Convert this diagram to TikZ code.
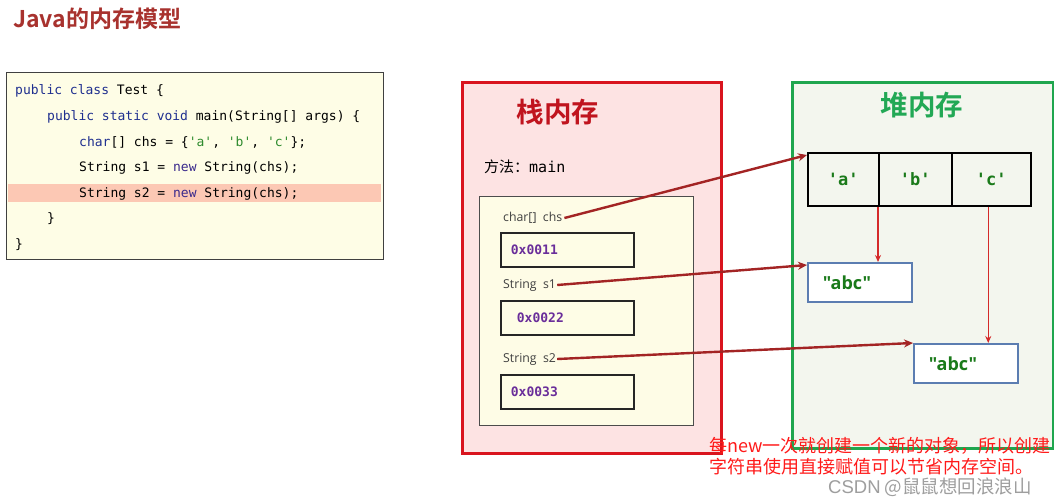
\documentclass[tikz,border=0pt]{standalone}
\usepackage{fontspec}
\setmonofont{DejaVu Sans Mono}
\newfontfamily\cjk[BoldFont={Noto Sans CJK SC Bold}]{Noto Sans CJK SC}
\newfontfamily\lab{Open Sans}
\newfontfamily\wmfont{Liberation Sans}
\usetikzlibrary{arrows.meta}
\definecolor{titlered}{HTML}{A8322E}
\definecolor{codebg}{HTML}{FEFDE6}
\definecolor{hl}{HTML}{FCC8B4}
\definecolor{kw}{HTML}{1F2F8F}
\definecolor{kwnew}{HTML}{3A2A8C}
\definecolor{strg}{HTML}{2E8B2E}
\definecolor{stackbg}{HTML}{FDE3E3}
\definecolor{stackbd}{HTML}{D9141E}
\definecolor{stacktxt}{HTML}{C0141E}
\definecolor{framebg}{HTML}{FEFCE6}
\definecolor{heapbd}{HTML}{1FA64E}
\definecolor{heapbg}{HTML}{F3F6EE}
\definecolor{heaptxt}{HTML}{22A855}
\definecolor{addr}{HTML}{6A2E9A}
\definecolor{valgreen}{HTML}{1A7A1A}
\definecolor{ptr}{HTML}{A32424}
\definecolor{thinred}{HTML}{D42A2A}
\definecolor{objbd}{HTML}{5B7DB1}
\definecolor{note}{HTML}{FF1A1A}
\newcommand{\kwd}[1]{\textcolor{kw}{#1}}
\newcommand{\kwn}[1]{\textcolor{kwnew}{#1}}
\newcommand{\lit}[1]{\textcolor{strg}{#1}}
\tikzset{
  codeline/.style={anchor=west, inner sep=0pt, font=\ttfamily\fontsize{13}{15}\selectfont, text height=9pt, text depth=3pt},
  varlabel/.style={anchor=west, inner sep=0pt, font=\lab\fontsize{12.3}{14}\selectfont, text=black!75},
  addrbox/.style={draw=black!85, line width=1.8pt, fill=codebg, anchor=north west, minimum width=133pt, minimum height=34pt, inner ysep=0pt, align=left, font=\ttfamily\bfseries\fontsize{13}{15}\selectfont, text=addr},
  cell/.style={draw=black, line width=1.5pt, fill=heapbg, anchor=north west, minimum height=53pt, inner sep=0pt, font=\ttfamily\bfseries\fontsize{17}{19}\selectfont, text=valgreen},
  objbox/.style={draw=objbd, line width=1.8pt, fill=white, anchor=north west, minimum width=104pt, minimum height=39pt, inner ysep=0pt, inner xsep=15pt, text width=74pt, align=left, font=\lab\bfseries\fontsize{18}{20}\selectfont, text=valgreen},
  pointer/.style={draw=ptr, line width=2.4pt, -{Stealth[length=9pt,width=8pt]}},
  thinptr/.style={draw=thinred, line width=1.2pt, -{Stealth[length=7pt,width=6pt]}},
  notetext/.style={anchor=west, inner sep=0pt, text=note, font=\cjk\fontsize{18}{20}\selectfont}
}
\begin{document}
\begin{tikzpicture}[x=1pt,y=-1pt]
\useasboundingbox (0,0) rectangle (1054,501);
\fill[white] (0,0) rectangle (1054,501);
% title
\node[anchor=west, inner sep=0pt, text=titlered, font=\cjk\bfseries\fontsize{23}{26}\selectfont] (title) at (13,19) {Java的内存模型};
% code box
\node[draw=black!75, line width=1pt, fill=codebg, anchor=north west, minimum width=377pt, minimum height=187pt, inner sep=0pt] (codebox) at (6,72) {};
\fill[hl] (8,184) rectangle (381,202);
\node[codeline] (l1) at (15,91) {\kwd{public class} Test \{};
\node[codeline] (l2) at (47,117) {\kwd{public static void} main(String[] args) \{};
\node[codeline] (l3) at (79,143) {\kwd{char}[] chs = \{\lit{'a'}, \lit{'b'}, \lit{'c'}\};};
\node[codeline] (l4) at (79,168) {String s1 = \kwn{new} String(chs);};
\node[codeline] (l5) at (79,194) {String s2 = \kwn{new} String(chs);};
\node[codeline] (l6) at (47,219) {\}};
\node[codeline] (l7) at (15,245) {\}};
% stack
\node[draw=stackbd, line width=3pt, fill=stackbg, anchor=north west, minimum width=259pt, minimum height=371pt, inner sep=0pt] (stack) at (461,81) {};
\node[text=stacktxt, font=\cjk\bfseries\fontsize{27.5}{30}\selectfont, inner sep=0pt] (stacktitle) at (558,112) {栈内存};
\node[anchor=west, inner sep=0pt, font=\fontsize{15}{17}\selectfont] (method) at (484,167) {{\cjk 方法：}\ttfamily main};
\node[draw=black!70, line width=1pt, fill=framebg, anchor=north west, minimum width=214pt, minimum height=229pt, inner sep=0pt] (frame) at (479,196) {};
\node[varlabel] (chs) at (503,218) {char[]\ \ chs};
\node[addrbox, inner xsep=10pt, text width=113pt] (a1) at (500,232) {0x0011};
\node[varlabel] (s1) at (503,285) {String\ \ s1};
\node[addrbox, inner xsep=16pt, text width=101pt] (a2) at (500,300) {0x0022};
\node[varlabel] (s2) at (503,359) {String\ \ s2};
\node[addrbox, inner xsep=10pt, text width=113pt] (a3) at (500,374) {0x0033};
% heap
\node[draw=heapbd, line width=3pt, fill=heapbg, anchor=north west, minimum width=261pt, minimum height=366pt, inner sep=0pt] (heap) at (791,81) {};
\node[text=heaptxt, font=\cjk\bfseries\fontsize{27.5}{30}\selectfont, inner sep=0pt] (heaptitle) at (922,105) {堆内存};
\node[cell, minimum width=71pt] (ca) at (807,152) {'a'};
\node[cell, minimum width=73pt] (cb) at (878,152) {'b'};
\node[cell, minimum width=79pt] (cc) at (951,152) {'c'};
\node[objbox] (o1) at (807,262) {"abc"};
\node[objbox] (o2) at (913,343) {"abc"};
% thin arrows
\draw[thinptr] (cb.south west) -- (cb.south west |- o1.north);
\draw[thinptr] ([xshift=-3pt]cc.south) -- ([xshift=-3pt]cc.south |- o2.north);
% pointers
\draw[pointer] (chs.east) ++(2,0) -- ([yshift=-3pt]ca.north west);
\draw[pointer] (s1.east) ++(1,0) -- ([yshift=-3pt]o1.north west);
\draw[pointer] (s2.east) ++(1,0) -- (o2.north west);
% note
\node[notetext] (n1) at (709,446) {每new一次就创建一个新的对象，所以创建};
\node[notetext] (n2) at (709,467) {字符串使用直接赋值可以节省内存空间。};
\node[anchor=west, inner sep=0pt, text=black!38, font=\cjk\fontsize{18.5}{20}\selectfont] (wm) at (828,487) {{\wmfont CSDN} @鼠鼠想回浪浪山};
\end{tikzpicture}
\end{document}
